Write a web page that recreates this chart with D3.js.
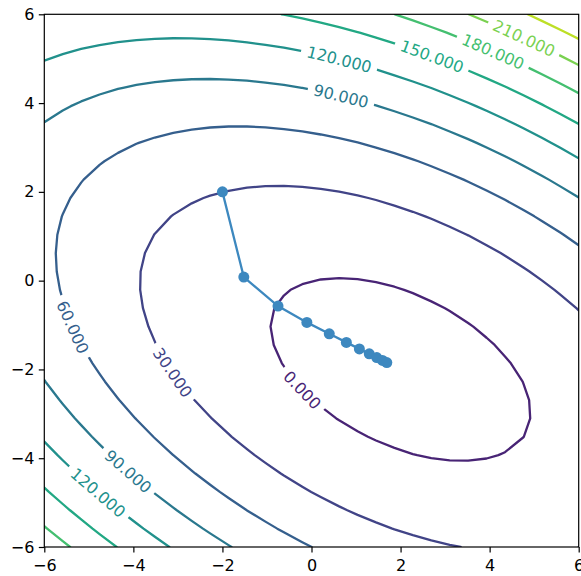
<!DOCTYPE html>
<html>
<head>
<meta charset="utf-8">
<script src="https://cdn.jsdelivr.net/npm/d3@7"></script>
<style>
  body { margin: 0; background: #fff; }
  svg { font-family: "DejaVu Sans", sans-serif; display: block; }
</style>
</head>
<body>
<div id="chart"></div>
<script>
// quadratic form f(p) = 0.5 p'Ap - b'p
var matA = [[3, 2], [2, 6]];
var vecB = [2, -8];

var levels = [0, 30, 60, 90, 120, 150, 180, 210, 240];
var colorDomain = [-30, 270];

// gradient descent steps
var stepX = [-2, -1.52, -0.752, -0.104, 0.399, 0.783, 1.075, 1.297, 1.466, 1.594, 1.691];
var stepY = [2, 0.08, -0.573, -0.94, -1.198, -1.391, -1.537, -1.649, -1.733, -1.797, -1.846];

// inline contour labels
var labelLevels = [210, 180, 150, 120, 90, 60, 30, 0, 90, 120];
var labelX = [4.79, 4.1, 2.73, 0.64, 0.67, -5.32, -3.07, -0.15, -4.04, -4.76];
var labelY = [5.5, 5.21, 5.12, 5.05, 4.18, -1.03, -2.04, -2.41, -4.21, -4.74];

var tickValues = [-6, -4, -2, 0, 2, 4, 6];

var svgWidth = 581;
var svgHeight = 576;
var margin = { top: 14.3, right: 2.3, bottom: 29, left: 44.3 };
var width = svgWidth - margin.left - margin.right;
var height = svgHeight - margin.top - margin.bottom;

var svg = d3
  .select("#chart")
  .append("svg")
  .attr("width", svgWidth)
  .attr("height", svgHeight);

var chartGroup = svg
  .append("g")
  .attr("transform", `translate(${margin.left}, ${margin.top})`);

var xScale = d3.scaleLinear().domain([-6, 6]).range([0, width]);
var yScale = d3.scaleLinear().domain([-6, 6]).range([height, 0]);
var color = d3.scaleSequential(d3.interpolateViridis).domain(colorDomain);

function f(x, y) {
  return 0.5 * (matA[0][0] * x * x + 2 * matA[0][1] * x * y + matA[1][1] * y * y) - vecB[0] * x - vecB[1] * y;
}
function grad(x, y) {
  return [matA[0][0] * x + matA[0][1] * y - vecB[0], matA[1][0] * x + matA[1][1] * y - vecB[1]];
}

// sample on a 30x30 grid like np.linspace(-6, 6, 30)
var n = 30;
var h = 12 / (n - 1);
var values = new Array(n * n);
for (var j = 0; j < n; j++) {
  for (var i = 0; i < n; i++) {
    values[j * n + i] = f(-6 + i * h, -6 + j * h);
  }
}

var contours = d3.contours().size([n, n]).thresholds(levels)(values);

var proj = d3.geoTransform({
  point: function (cx, cy) {
    this.stream.point(xScale(-6 + (cx - 0.5) * h), yScale(-6 + (cy - 0.5) * h));
  },
});
var geoPath = d3.geoPath(proj);

svg
  .append("defs")
  .append("clipPath")
  .attr("id", "plot-clip")
  .append("rect")
  .attr("width", width)
  .attr("height", height);

var plot = chartGroup.append("g").attr("clip-path", "url(#plot-clip)");

plot
  .selectAll("path.contour")
  .data(contours)
  .enter()
  .append("path")
  .attr("class", "contour")
  .attr("d", geoPath)
  .attr("fill", "none")
  .attr("stroke", (d) => color(d.value))
  .attr("stroke-width", 2.3)
  .attr("stroke-linejoin", "round");

// labels: snap to the level, rotate along the line
var labelData = labelLevels.map(function (lv, k) {
  var px = labelX[k], py = labelY[k];
  for (var it = 0; it < 6; it++) {
    var g = grad(px, py);
    var d = (f(px, py) - lv) / (g[0] * g[0] + g[1] * g[1]);
    px -= d * g[0];
    py -= d * g[1];
  }
  var g2 = grad(px, py);
  var sx = width / 12, sy = height / 12;
  var ang = (Math.atan2(-g2[0] * sy, -g2[1] * sx) * 180) / Math.PI;
  if (ang > 90) ang -= 180;
  if (ang < -90) ang += 180;
  return { level: lv, x: px, y: py, angle: ang };
});

var labels = plot
  .selectAll("g.clabel")
  .data(labelData)
  .enter()
  .append("g")
  .attr("class", "clabel")
  .attr("transform", (d) => `translate(${xScale(d.x)}, ${yScale(d.y)}) rotate(${d.angle})`);

var gapRects = labels.append("rect").attr("fill", "#fff");

var labelText = labels
  .append("text")
  .attr("text-anchor", "middle")
  .attr("dy", "0.36em")
  .style("font-size", "16px")
  .attr("fill", (d) => color(d.level))
  .text((d) => d.level.toFixed(3));

labelText.each(function (d) {
  d.w = this.getComputedTextLength();
});
gapRects
  .attr("x", (d) => -d.w / 2 - 6)
  .attr("y", -5)
  .attr("width", (d) => d.w + 12)
  .attr("height", 10);

// descent path
var lineGen = d3
  .line()
  .x((d, k) => xScale(stepX[k]))
  .y((d, k) => yScale(stepY[k]));

plot
  .append("path")
  .datum(stepX)
  .attr("d", lineGen)
  .attr("fill", "none")
  .attr("stroke", "#3d88bf")
  .attr("stroke-width", 2.3);

plot
  .selectAll("circle")
  .data(stepX)
  .enter()
  .append("circle")
  .attr("cx", (d, k) => xScale(stepX[k]))
  .attr("cy", (d, k) => yScale(stepY[k]))
  .attr("r", 5.5)
  .attr("fill", "#3d88bf");

// axes
var bottomAxis = d3.axisBottom(xScale).tickValues(tickValues).tickSize(5.5).tickPadding(7.6);
var leftAxis = d3.axisLeft(yScale).tickValues(tickValues).tickSize(5.5).tickPadding(4.4);

var xAxis = chartGroup
  .append("g")
  .attr("transform", `translate(0, ${height})`)
  .call(bottomAxis);

var yAxis = chartGroup.append("g").call(leftAxis);

[xAxis, yAxis].forEach(function (ax) {
  ax.select(".domain").remove();
  ax.selectAll("line").attr("stroke", "#000").attr("stroke-width", 1.2);
  ax.selectAll("text")
    .attr("fill", "#000")
    .style("font-size", "16px")
    .style("font-family", "DejaVu Sans, sans-serif");
});

chartGroup
  .append("rect")
  .attr("width", width)
  .attr("height", height)
  .attr("fill", "none")
  .attr("stroke", "#000")
  .attr("stroke-width", 1.2);
</script>
</body>
</html>
